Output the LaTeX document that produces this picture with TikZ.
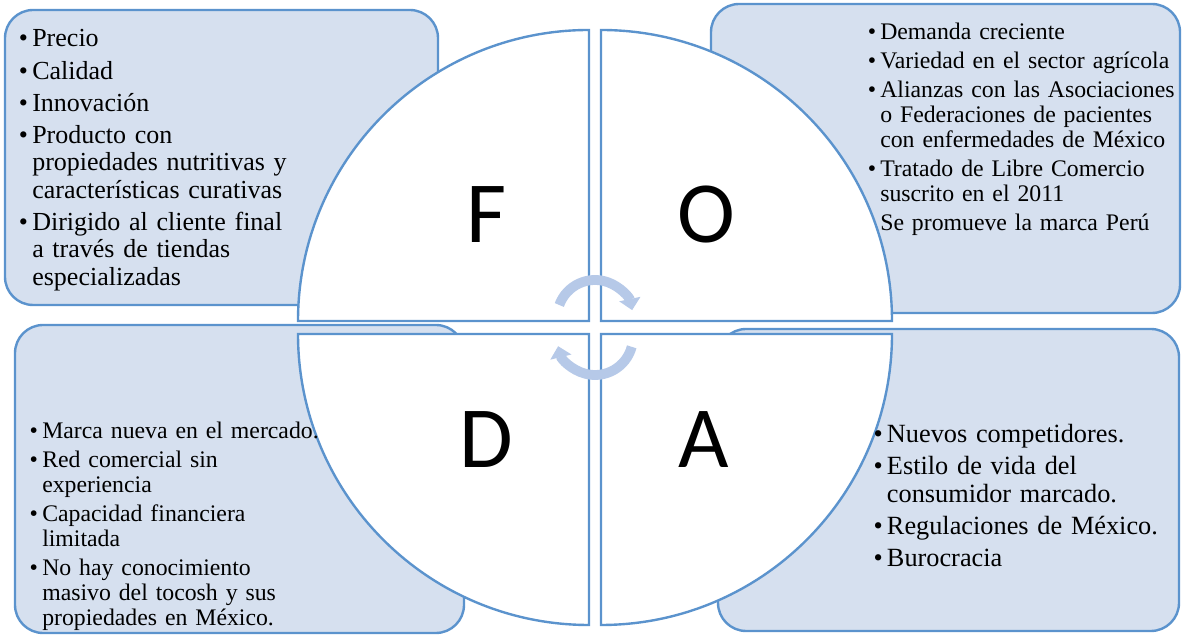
\documentclass[tikz,border=0pt]{standalone}
\usepackage{fontspec}
\setmainfont{Liberation Serif}
\newfontfamily\letterfont{Carlito}
\usetikzlibrary{arrows.meta}
\definecolor{edgeblue}{RGB}{91,147,205}
\definecolor{boxfill}{RGB}{214,224,239}
\definecolor{cyclearrow}{RGB}{182,201,232}
\newcommand{\bul}{\leavevmode\llap{\textbullet\hspace{3pt}}}
\tikzset{
  box/.style={draw=edgeblue,fill=boxfill,line width=1.7pt,rounded corners=20pt},
  quad/.style={draw=edgeblue,fill=white,line width=1.7pt},
  letter/.style={font=\fontsize{62}{62}\selectfont\letterfont,inner sep=0pt},
  biglist/.style={anchor=base west,inner sep=0pt,text width=9cm,align=left,
    font=\fontsize{18.5}{19.4}\selectfont},
  smalllist/.style={anchor=base west,inner sep=0pt,text width=9cm,align=left,
    font=\fontsize{16.9}{17.8}\selectfont},
  cyc/.style={draw=cyclearrow,line width=7pt,-{Triangle[width=15pt,length=8pt]}}
}
\begin{document}
\begin{tikzpicture}[x=0.025cm,y=0.025cm]
  \useasboundingbox (0,0) rectangle (1183,635);
  \draw[box] (5,330) rectangle (438,625);
  \draw[box] (711,322) rectangle (1180,631);
  \draw[box] (15,2) rectangle (464,310);
  \draw[box] (718,4) rectangle (1179,306);
  \draw[quad] (589,314) -- (298,314) arc[start angle=180,end angle=90,radius=291] -- cycle;
  \draw[quad] (601,314) -- (601,605) arc[start angle=90,end angle=0,radius=291] -- cycle;
  \draw[quad] (589,301) -- (298,301) arc[start angle=180,end angle=270,radius=291] -- cycle;
  \draw[quad] (601,301) -- (892,301) arc[start angle=0,end angle=-90,radius=291] -- cycle;
  \node[letter] (fletter) at (487,420.5) {F};
  \node[letter] (oletter) at (706.5,420.5) {O};
  \node[letter] (dletter) at (486,195) {D};
  \node[letter] (aletter) at (703.5,195) {A};
  \node[biglist] (ftext) at (32,588.3) {\bul Precio\\[3.6pt]
    \bul Calidad\\[3.6pt]
    \bul Innovación\\[3.6pt]
    \bul Producto con\\
    propiedades nutritivas y\\
    características curativas\\[3.6pt]
    \bul Dirigido al cliente final\\
    a través de tiendas\\
    especializadas};
  \node[smalllist] (otext) at (880,595.7) {\bul Demanda creciente\\[2.8pt]
    \bul Variedad en el sector agrícola\\[2.8pt]
    \bul Alianzas con las Asociaciones\\
    o Federaciones de pacientes\\
    con enfermedades de México\\[2.8pt]
    \bul Tratado de Libre Comercio\\
    suscrito en el 2011\\[2.8pt]
    Se promueve la marca Perú};
  \node[smalllist] (dtext) at (42,196.7) {\bul Marca nueva en el mercado.\\[2.8pt]
    \bul Red comercial sin\\
    experiencia\\[2.8pt]
    \bul Capacidad financiera\\
    limitada\\[2.8pt]
    \bul No hay conocimiento\\
    masivo del tocosh y sus\\
    propiedades en México.};
  \node[biglist,font=\fontsize{18.7}{19.7}\selectfont] (atext) at (886.7,192.3) {\bul Nuevos competidores.\\[3.1pt]
    \bul Estilo de vida del\\
    consumidor marcado.\\[3.1pt]
    \bul Regulaciones de México.\\[3.1pt]
    \bul Burocracia};
  \draw[cyc] ([shift={(160:38)}]595,317) arc[start angle=160,end angle=12,radius=38];
  \draw[cyc] ([shift={(-15:38)}]595,298) arc[start angle=-15,end angle=-166,radius=38];
\end{tikzpicture}
\end{document}
